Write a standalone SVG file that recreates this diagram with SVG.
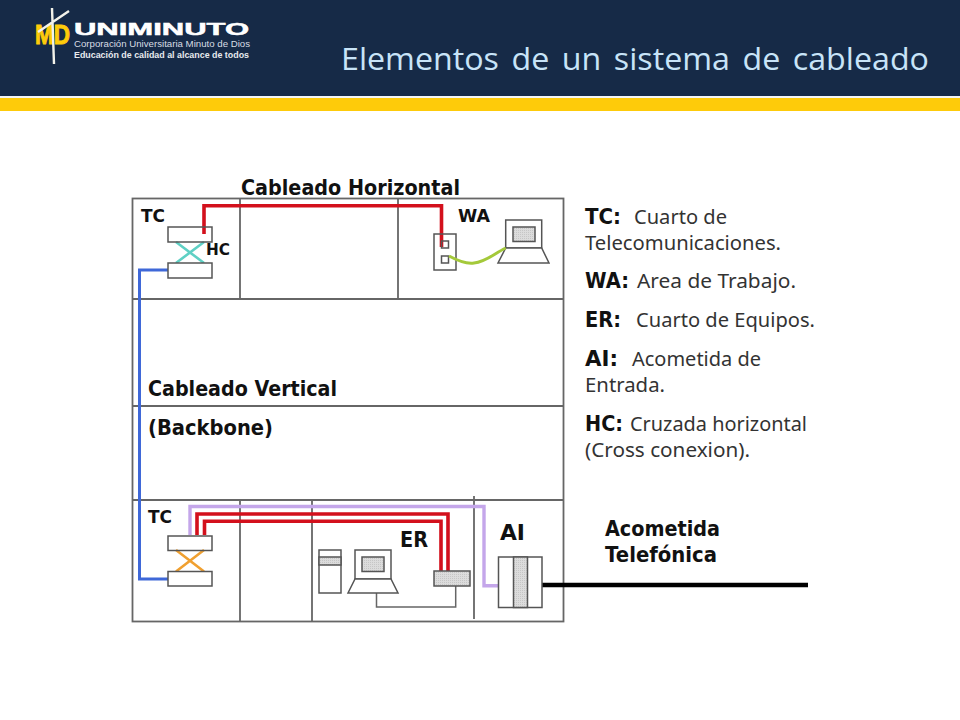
<svg xmlns="http://www.w3.org/2000/svg" width="960" height="720" viewBox="0 0 960 720">
<style>
.b{font-family:"DejaVu Sans",sans-serif;font-weight:bold;fill:#111;font-size:21px}
.t{font-family:"Noto Sans","DejaVu Sans",sans-serif;fill:#333;font-size:20px}
.k{font-family:"DejaVu Sans",sans-serif;font-weight:bold;fill:#111;font-size:21px}
.g{fill:none;stroke:#666;stroke-width:1.8}
.w{fill:#fff;stroke:#555;stroke-width:1.5}
.h{fill:url(#dots);stroke:#555;stroke-width:1.5}
.c{fill:none;stroke-linejoin:miter}
.red{stroke:#d3101c;stroke-width:3.6}
</style>
<defs>
<pattern id="dots" width="2" height="2" patternUnits="userSpaceOnUse"><rect width="2" height="2" fill="#dcdcdc"/><rect width="1" height="1" fill="#c6c6c6"/></pattern>
</defs>
<rect width="960" height="720" fill="#fff"/>
<g id="header">
<rect width="960" height="96" fill="#162a47"/>
<rect y="96" width="960" height="2" fill="#f2f4f6"/>
<rect y="98" width="960" height="13" fill="#fecb0a"/>
<text x="341" y="70" font-family="'Open Sans',sans-serif" font-size="31" fill="#c8e4f8" textLength="588" word-spacing="4" lengthAdjust="spacingAndGlyphs">Elementos de un sistema de cableado</text>
</g>
<g id="logo">
<text x="35" y="44" font-family="'Liberation Sans',sans-serif" font-weight="bold" font-size="27" fill="#fecb0a" stroke="#fecb0a" stroke-width="1" textLength="35" lengthAdjust="spacingAndGlyphs">MD</text>
<path d="M52 8L54 64M38 32L69 11" stroke="#f2f2ea" stroke-width="2.4" fill="none"/>
<text x="74" y="35" font-family="'Liberation Sans',sans-serif" font-weight="bold" font-size="16" fill="#fff" stroke="#fff" stroke-width=".5" textLength="175" lengthAdjust="spacingAndGlyphs">UNIMINUTO</text>
<text x="74" y="47" font-family="'Liberation Sans',sans-serif" font-size="9.5" fill="#d8dde4" textLength="176" lengthAdjust="spacingAndGlyphs">Corporación Universitaria Minuto de Dios</text>
<text x="74" y="58" font-family="'Liberation Sans',sans-serif" font-weight="bold" font-size="9.5" fill="#e8ebef" textLength="175" lengthAdjust="spacingAndGlyphs">Educación de calidad al alcance de todos</text>
</g>
<g id="floorplan">
<rect class="g" x="132.5" y="198.5" width="431" height="423"/>
<path class="g" d="M132 299H564M132 406H564M132 500H564M240 199V299M398 199V299M240 500V622M312 500V622M474 496V619"/>
</g>
<g id="connectors">
<path class="c" stroke="#3f68d8" stroke-width="3" d="M168 270H139.5V579H168"/>
<path class="c red" d="M204 234V205.7H441.5V247"/>
<path class="c" stroke="#5fd0c4" stroke-width="2.6" d="M176 242L204 263M204 242L176 263"/>
<path class="c" stroke="#f0a030" stroke-width="2.6" d="M176 550L204 571.5M204 550L176 571.5"/>
<path class="c" stroke="#c4a6ea" stroke-width="3.4" d="M190 535V506.5H484V585.7H498"/>
<path class="c red" d="M197 535V514H448V571"/>
<path class="c red" d="M204.5 535V521.3H441V571"/>
<path class="c" stroke="#666" stroke-width="1.5" d="M376.5 593V607H455.7V586"/>
<path class="c" stroke="#000" stroke-width="4.5" d="M542 585H808"/>
</g>
<g id="hc-top"><rect class="w" x="168" y="227" width="44" height="15" style="fill:none"/><rect class="w" x="168" y="263" width="44" height="15"/></g>
<g id="tc-bottom"><rect class="w" x="168" y="536" width="44" height="14.5" style="fill:none"/><rect class="w" x="168" y="571.5" width="44" height="14.5"/></g>
<g id="wa-outlet">
<rect class="w" x="434" y="234" width="22" height="36" style="fill:none"/>
<rect class="w" x="441.5" y="241" width="7" height="7" style="fill:none"/>
<rect class="w" x="441.5" y="256" width="7" height="7"/>
</g>
<g id="wa-laptop">
<rect class="w" x="505.7" y="220" width="36" height="28"/>
<rect class="h" x="513" y="227" width="22" height="14.5"/>
<path class="w" d="M505.7 248H541.7L549 263H498Z"/>
</g>
<path id="wa-cable" class="c" stroke="#a4c93a" stroke-width="3" d="M449 256C462 263 468 264 474 263C486 262 495 253 505.7 248"/>
<g id="er-server">
<rect class="w" x="319" y="550" width="22" height="43"/>
<rect class="h" x="319" y="557" width="22" height="8"/>
</g>
<g id="er-pc">
<rect class="w" x="355" y="550" width="36" height="29"/>
<rect class="h" x="362" y="557" width="22" height="14.5"/>
<path class="w" d="M355 579H391L398 593H348Z"/>
</g>
<g id="er-switch"><rect class="h" x="434" y="571" width="36" height="15"/></g>
<g id="ai-block">
<rect class="w" x="498.5" y="557" width="43.5" height="50.5"/>
<rect class="h" x="513.5" y="557" width="14" height="50.5"/>
</g>
<g id="labels">
<text class="b" x="241" y="195" textLength="219" lengthAdjust="spacingAndGlyphs">Cableado Horizontal</text>
<text class="b" x="141" y="222" style="font-size:18px" textLength="24" lengthAdjust="spacingAndGlyphs">TC</text>
<text class="b" x="206" y="255" style="font-size:16px" textLength="24" lengthAdjust="spacingAndGlyphs">HC</text>
<text class="b" x="458" y="222" style="font-size:18px" textLength="32" lengthAdjust="spacingAndGlyphs">WA</text>
<text class="b" x="148" y="396" textLength="189" lengthAdjust="spacingAndGlyphs">Cableado Vertical</text>
<text class="b" x="148" y="435" textLength="125" lengthAdjust="spacingAndGlyphs">(Backbone)</text>
<text class="b" x="148" y="523" style="font-size:18px" textLength="24" lengthAdjust="spacingAndGlyphs">TC</text>
<text class="b" x="400" y="547" textLength="28" lengthAdjust="spacingAndGlyphs">ER</text>
<text class="b" x="500" y="540" textLength="25" lengthAdjust="spacingAndGlyphs">AI</text>
<text class="b" x="605" y="536" textLength="115" lengthAdjust="spacingAndGlyphs">Acometida</text>
<text class="b" x="605" y="562" textLength="112" lengthAdjust="spacingAndGlyphs">Telefónica</text>
</g>
<g id="legend">
<text class="k" x="585" y="224" textLength="36" lengthAdjust="spacingAndGlyphs">TC:</text>
<text class="t" x="634" y="224" textLength="93" lengthAdjust="spacingAndGlyphs">Cuarto de</text>
<text class="t" x="585" y="250" textLength="196" lengthAdjust="spacingAndGlyphs">Telecomunicaciones.</text>
<text class="k" x="585" y="288" textLength="44" lengthAdjust="spacingAndGlyphs">WA:</text>
<text class="t" x="637" y="288" textLength="159" lengthAdjust="spacingAndGlyphs">Area de Trabajo.</text>
<text class="k" x="585" y="327" textLength="36" lengthAdjust="spacingAndGlyphs">ER:</text>
<text class="t" x="636" y="327" textLength="179" lengthAdjust="spacingAndGlyphs">Cuarto de Equipos.</text>
<text class="k" x="585" y="366" textLength="33" lengthAdjust="spacingAndGlyphs">AI:</text>
<text class="t" x="632" y="366" textLength="129" lengthAdjust="spacingAndGlyphs">Acometida de</text>
<text class="t" x="585" y="392" textLength="80" lengthAdjust="spacingAndGlyphs">Entrada.</text>
<text class="k" x="585" y="431" textLength="38" lengthAdjust="spacingAndGlyphs">HC:</text>
<text class="t" x="630" y="431" textLength="177" lengthAdjust="spacingAndGlyphs">Cruzada horizontal</text>
<text class="t" x="585" y="457" textLength="165" lengthAdjust="spacingAndGlyphs">(Cross conexion).</text>
</g>
</svg>
